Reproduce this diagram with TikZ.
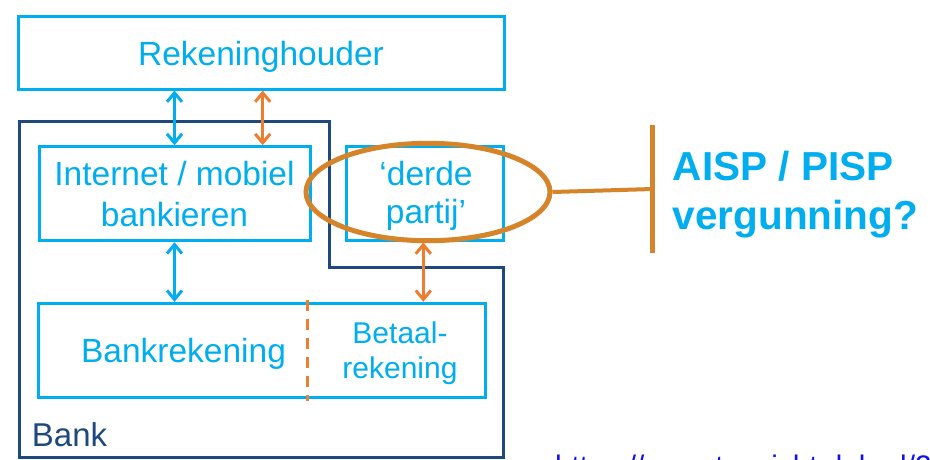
\documentclass[tikz,border=0pt]{standalone}
\usepackage{fontspec}
\setmainfont{Liberation Sans}
\usetikzlibrary{arrows.meta,shapes.geometric}

\definecolor{boxcyan}{HTML}{00AEEF}
\definecolor{banknavy}{HTML}{1F497D}
\definecolor{linkorange}{HTML}{ED7D31}
\definecolor{ringorange}{HTML}{D5842A}
\definecolor{urlblue}{HTML}{1010F0}

\tikzset{
  panel/.style={draw=boxcyan, line width=3pt, rectangle, inner sep=0pt},
  label/.style={inner sep=0pt, anchor=base, text=boxcyan, font=\fontsize{33.5}{40}\selectfont},
  smalllabel/.style={label, font=\fontsize{30}{35}\selectfont},
  bluelink/.style={draw=boxcyan, line width=3pt, {Straight Barb[length=9pt,width=15pt]}-{Straight Barb[length=9pt,width=15pt]}},
  orangelink/.style={draw=linkorange, line width=3pt, {Straight Barb[length=9pt,width=15pt]}-{Straight Barb[length=9pt,width=15pt]}},
  question/.style={inner sep=0pt, anchor=base west, text=boxcyan, font=\bfseries\fontsize{40.5}{48}\selectfont},
}

\begin{document}
\begin{tikzpicture}[x=1pt, y=-1pt]
  \useasboundingbox (0,0) rectangle (930,459);
  \clip (0,0) rectangle (930,459);
  \fill[white] (0,0) rectangle (930,459);

  % outline of the bank
  \draw[banknavy, line width=3pt, line join=miter]
    (19,121.7) -- (329.3,121.7) -- (329.3,267.7) -- (503.5,267.7)
    -- (503.5,457) -- (19,457) -- cycle;
  \node[inner sep=0pt, anchor=base west, text=banknavy,
        font=\fontsize{33}{40}\selectfont] (banklbl) at (31.7,446.7) {Bank};

  % boxes
  \node[panel, minimum width=486pt, minimum height=73pt] (reke) at (261,52.5) {};
  \node[panel, minimum width=271pt, minimum height=94pt] (inet) at (174.5,193.7) {};
  \node[panel, minimum width=157.3pt, minimum height=94.3pt] (derde) at (425.3,193.8) {};
  \node[panel, minimum width=446.7pt, minimum height=94.4pt] (bankrek) at (262.3,350.5) {};

  % box texts
  \node[label] (rekelbl) at (261,65) {Rekeninghouder};
  \node[label] (inetlblA) at (174.5,185) {Internet / mobiel};
  \node[label] (inetlblB) at (174.5,226.7) {bankieren};
  \node[label] (derdelblA) at (426,185) {‘derde};
  \node[label] (derdelblB) at (426,223) {partij’};
  \node[label] (bankreklbl) at (183.5,362.7) {Bankrekening};
  \node[smalllabel] (betaalA) at (400,343) {Betaal-};
  \node[smalllabel] (betaalB) at (400,378) {rekening};

  % dashed split inside the account box
  \path (bankrek.north west) ++(270.3,0) coordinate (splittop);
  \draw[linkorange, line width=3pt, dash pattern=on 11pt off 8pt]
    ([yshift=1.5pt]splittop) -- ([yshift=-1.5pt]splittop |- bankrek.south);

  % connections
  \draw[bluelink] (reke.south -| inet.north) -- (inet.north);
  \draw[orangelink] ([xshift=1.7pt]reke.south) -- ([xshift=1.7pt]reke.south |- inet.north);
  \draw[bluelink] (inet.south) -- (inet.south |- bankrek.north);
  \draw[orangelink] ([xshift=-2pt]derde.south) -- ([xshift=-2pt]derde.south |- bankrek.north);

  % ring around the third party and the callout
  \node[draw=ringorange, line width=5pt, ellipse, inner sep=0pt,
        minimum width=244pt, minimum height=97.4pt] (ring) at (428,192) {};
  \coordinate (bartop) at (652.7,125);
  \coordinate (barbot) at (652.7,253);
  \coordinate (barmid) at (652.7,189);
  \draw[ringorange, line width=5pt] (bartop) -- (barbot);
  \draw[ringorange, line width=4pt] (ring.east) -- (barmid);

  \node[question] (aisp) at (672.7,180) {AISP / PISP};
  \node[question] (verg) at (672.7,229) {vergunning?};

  % source link, running off the bottom edge
  \node[inner sep=0pt, anchor=base west, text=urlblue,
        font=\fontsize{29.7}{35}\selectfont] (srcurl) at (555,476)
        {https://www.toezicht.dnb.nl/2};
\end{tikzpicture}
\end{document}
